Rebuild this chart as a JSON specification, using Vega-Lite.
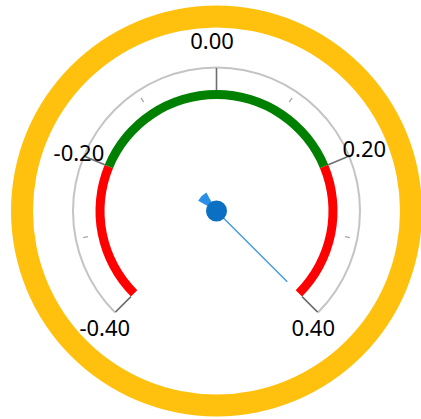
{
  "$schema": "https://vega.github.io/schema/vega-lite/v6.json",
  "width": 409,
  "height": 416,
  "padding": {"left": 12, "top": 3, "right": 0, "bottom": 0},
  "autosize": "none",
  "background": "white",
  "config": {"view": {"stroke": null}},
  "datasets": {
    "ranges": [
      {"from": -0.4, "to": -0.2, "band": "low"},
      {"from": -0.2, "to": 0.2, "band": "normal"},
      {"from": 0.2, "to": 0.4, "band": "high"}
    ],
    "major": [
      {"v": -0.4, "label": "-0.40"},
      {"v": -0.2, "label": "-0.20"},
      {"v": 0.0, "label": "0.00"},
      {"v": 0.2, "label": "0.20"},
      {"v": 0.4, "label": "0.40"}
    ],
    "minor": [{"v": -0.3}, {"v": -0.1}, {"v": 0.1}, {"v": 0.3}],
    "scale": [{"from": -0.4, "to": 0.4}],
    "needle": [{"value": 0.4}]
  },
  "layer": [
    {
      "data": {"name": "scale"},
      "mark": {"type": "arc", "theta": 0, "theta2": 6.2832, "radius": 205.5, "radius2": 183.5, "fill": "#FFC10E"},
      "encoding": {}
    },
    {
      "data": {"name": "scale"},
      "mark": {"type": "arc", "radius": 144.5, "radius2": 142.5, "fill": "#C4C4C4"},
      "encoding": {
        "theta": {"field": "from", "type": "quantitative", "stack": null, "scale": {"domain": [-0.4, 0.4], "range": [-2.3562, 2.3562]}},
        "theta2": {"field": "to"}
      }
    },
    {
      "data": {"name": "ranges"},
      "mark": {"type": "arc", "radius": 121, "radius2": 112},
      "encoding": {
        "theta": {"field": "from", "type": "quantitative", "stack": null, "scale": {"domain": [-0.4, 0.4], "range": [-2.3562, 2.3562]}},
        "theta2": {"field": "to"},
        "color": {"field": "band", "type": "nominal", "legend": null, "scale": {"domain": ["low", "normal", "high"], "range": ["#FF0000", "#008000", "#FF0000"]}}
      }
    },
    {
      "data": {"name": "minor"},
      "mark": {"type": "arc", "radius": 136, "radius2": 131, "fill": null, "stroke": "#A8A8A8", "strokeWidth": 1.3},
      "encoding": {
        "theta": {"field": "v", "type": "quantitative", "stack": null, "scale": {"domain": [-0.4, 0.4], "range": [-2.3562, 2.3562]}},
        "theta2": {"field": "v"}
      }
    },
    {
      "data": {"name": "major"},
      "mark": {"type": "arc", "radius": 143, "radius2": 121, "fill": null, "stroke": "#6E6E6E", "strokeWidth": 1.6},
      "encoding": {
        "theta": {"field": "v", "type": "quantitative", "stack": null, "scale": {"domain": [-0.4, 0.4], "range": [-2.3562, 2.3562]}},
        "theta2": {"field": "v"}
      }
    },
    {
      "data": {"name": "major"},
      "transform": [{"filter": "datum.v == 0"}],
      "mark": {"type": "text", "radius": 169, "dx": -4.5, "font": "Noto Sans", "fontSize": 22, "color": "#000000", "align": "center", "baseline": "middle"},
      "encoding": {
        "theta": {"field": "v", "type": "quantitative", "stack": null, "scale": {"domain": [-0.4, 0.4], "range": [-2.3562, 2.3562]}},
        "text": {"field": "label"}
      }
    },
    {
      "data": {"name": "major"},
      "transform": [{"filter": "datum.v == -0.2"}],
      "mark": {"type": "text", "radius": 150, "dx": 1, "font": "Noto Sans", "fontSize": 22, "color": "#000000", "align": "center", "baseline": "middle"},
      "encoding": {
        "theta": {"field": "v", "type": "quantitative", "stack": null, "scale": {"domain": [-0.4, 0.4], "range": [-2.3562, 2.3562]}},
        "text": {"field": "label"}
      }
    },
    {
      "data": {"name": "major"},
      "transform": [{"filter": "datum.v == 0.2"}],
      "mark": {"type": "text", "radius": 160, "font": "Noto Sans", "fontSize": 22, "color": "#000000", "align": "center", "baseline": "middle"},
      "encoding": {
        "theta": {"field": "v", "type": "quantitative", "stack": null, "scale": {"domain": [-0.4, 0.4], "range": [-2.3562, 2.3562]}},
        "text": {"field": "label"}
      }
    },
    {
      "data": {"name": "major"},
      "transform": [{"filter": "datum.v == -0.4"}],
      "mark": {"type": "text", "radius": 158, "dy": 6, "font": "Noto Sans", "fontSize": 22, "color": "#000000", "align": "center", "baseline": "middle"},
      "encoding": {
        "theta": {"field": "v", "type": "quantitative", "stack": null, "scale": {"domain": [-0.4, 0.4], "range": [-2.3562, 2.3562]}},
        "text": {"field": "label"}
      }
    },
    {
      "data": {"name": "major"},
      "transform": [{"filter": "datum.v == 0.4"}],
      "mark": {"type": "text", "radius": 158, "dx": -15, "dy": 6, "font": "Noto Sans", "fontSize": 22, "color": "#000000", "align": "center", "baseline": "middle"},
      "encoding": {
        "theta": {"field": "v", "type": "quantitative", "stack": null, "scale": {"domain": [-0.4, 0.4], "range": [-2.3562, 2.3562]}},
        "text": {"field": "label"}
      }
    },
    {
      "data": {"name": "needle"},
      "mark": {"type": "arc", "radius": 100, "radius2": 8, "fill": null, "stroke": "#4A9CE0", "strokeWidth": 1.5},
      "encoding": {
        "theta": {"field": "value", "type": "quantitative", "stack": null, "scale": {"domain": [-0.4, 0.4], "range": [-2.3562, 2.3562]}},
        "theta2": {"field": "value"}
      }
    },
    {
      "data": {"name": "needle"},
      "mark": {"type": "arc", "radius": 21, "radius2": 8, "fill": "#2A8FE8", "thetaOffset": -3.42, "theta2Offset": -2.86},
      "encoding": {
        "theta": {"field": "value", "type": "quantitative", "stack": null, "scale": {"domain": [-0.4, 0.4], "range": [-2.3562, 2.3562]}},
        "theta2": {"field": "value"}
      }
    },
    {
      "data": {"name": "needle"},
      "mark": {"type": "arc", "theta": 0, "theta2": 6.2832, "radius": 10.5, "fill": "#0B6FC4"},
      "encoding": {}
    }
  ]
}
